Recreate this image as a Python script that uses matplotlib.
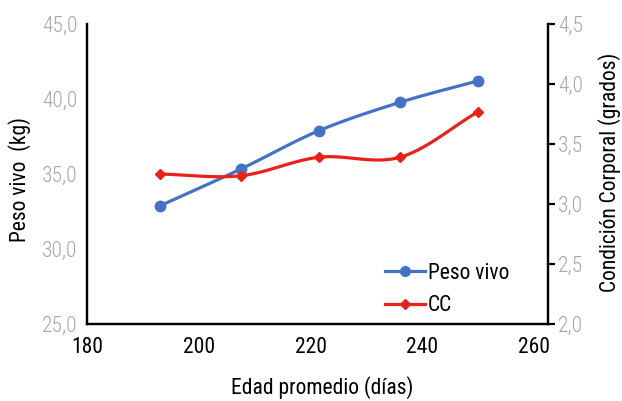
import numpy as np
import matplotlib
matplotlib.use("Agg")
import matplotlib.pyplot as plt
from matplotlib.lines import Line2D

# Data
edad = [193, 207.5, 221.5, 236, 250]
peso_vivo = [32.87, 35.33, 37.89, 39.78, 41.22]
cc = [3.25, 3.236, 3.39, 3.39, 3.77]
x_ticks = [180, 200, 220, 240, 260]
y1_ticks = [25, 30, 35, 40, 45]
y2_ticks = [2.0, 2.5, 3.0, 3.5, 4.0, 4.5]

plt.rcParams['font.family'] = ['Roboto Condensed', 'DejaVu Sans']


def smooth(x, y, n=30):
    # Catmull-Rom smoothing for display (like Excel smoothed lines)
    x = np.asarray(x, float); y = np.asarray(y, float)
    px = np.concatenate([[2*x[0]-x[1]], x, [2*x[-1]-x[-2]]])
    py = np.concatenate([[2*y[0]-y[1]], y, [2*y[-1]-y[-2]]])
    xs, ys = [], []
    for i in range(1, len(px)-2):
        t = np.linspace(0, 1, n)[:, None]
        p0, p1, p2, p3 = [np.array([px[j], py[j]]) for j in range(i-1, i+3)]
        pts = 0.5*((2*p1) + (-p0+p2)*t + (2*p0-5*p1+4*p2-p3)*t**2 + (-p0+3*p1-3*p2+p3)*t**3)
        xs.extend(pts[:, 0]); ys.extend(pts[:, 1])
    return np.array(xs), np.array(ys)


fig = plt.figure(figsize=(6.22, 4.01), dpi=100)
ax = fig.add_axes([0.1399, 0.192, 0.7412, 0.748])
ax2 = ax.twinx()

blue = '#4472C4'
red = '#E8211B'

sx, sy = smooth(edad, peso_vivo)
ax.plot(sx, sy, color=blue, lw=2.3, zorder=3)
ax.plot(edad, peso_vivo, 'o', color=blue, ms=7.5, zorder=4)
sx2, sy2 = smooth(edad, cc)
ax2.plot(sx2, sy2, color=red, lw=2.3, zorder=3)
ax2.plot(edad, cc, 'D', color=red, ms=5.5, zorder=4)

ax.set_xlim(180, 262.5)
ax.set_ylim(25, 45)
ax2.set_ylim(2.0, 4.5)
ax.set_xticks(x_ticks)
ax.set_yticks(y1_ticks)
ax2.set_yticks(y2_ticks)
ax.set_yticklabels([f"{v:.1f}".replace('.', ',') for v in y1_ticks])
ax2.set_yticklabels([f"{v:.1f}".replace('.', ',') for v in y2_ticks])

for a in (ax, ax2):
    a.spines['top'].set_visible(False)
    for s in ('left', 'right', 'bottom'):
        a.spines[s].set_linewidth(1.6)
        a.spines[s].set_color('black')

ax.tick_params(axis='y', length=0, labelsize=15.5, labelcolor='#a6a6a6', pad=7)
ax.tick_params(axis='x', length=0, labelsize=15.5, labelcolor='black', pad=9)
ax2.tick_params(axis='y', length=5, width=1.6, labelsize=15.5, labelcolor='#a6a6a6', pad=2)
for lab in ax.get_yticklabels() + ax2.get_yticklabels():
    lab.set_fontweight(300)

fig.text(322/622, 1-388/401, 'Edad promedio (días)', fontsize=15.5, ha='center', va='center')
fig.text(20/622, 1-180/401, 'Peso vivo  (kg)', fontsize=15.5, ha='center', va='center', rotation=90)
fig.text(610/622, 1-172/401, 'Condición Corporal (grados)', fontsize=15.5, ha='center', va='center', rotation=90)

handles = [Line2D([], [], color=blue, lw=2.3, marker='o', ms=7),
           Line2D([], [], color=red, lw=2.3, marker='D', ms=5)]
ax2.legend(handles, ['Peso vivo', 'CC'], loc='upper left', bbox_to_anchor=(385/622, 1-263/401),
           bbox_transform=fig.transFigure, borderaxespad=0, borderpad=0,
           frameon=False, fontsize=15.5, handlelength=1.85, handletextpad=0.15, labelspacing=0.52)

fig.savefig('out.png', dpi=100)
